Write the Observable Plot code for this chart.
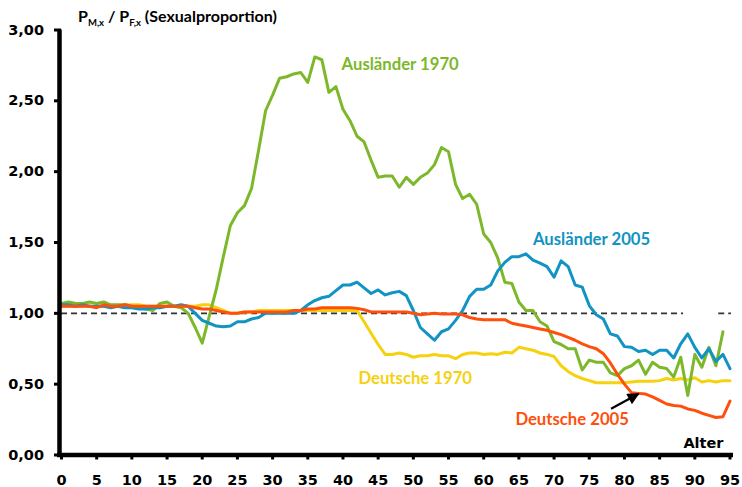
<!DOCTYPE html>
<html><head><meta charset="utf-8">
<script src="https://cdn.jsdelivr.net/npm/d3@7"></script>
<script src="https://cdn.jsdelivr.net/npm/@observablehq/plot@0.6"></script>
<style>body{margin:0;background:#fff;}</style>
</head><body><div id="chart"></div>
<script>
// Alter (age) categories
const ages = d3.range(0, 96);
const xTicks = d3.range(0, 96, 5);
const yTicks = [0, 0.5, 1, 1.5, 2, 2.5, 3];

// Sexualproportion P_M,x / P_F,x
const auslaender1970 = [1.07,1.08,1.07,1.07,1.08,1.07,1.08,1.06,1.06,1.06,1.05,1.04,1.03,1.02,1.07,1.08,1.05,1.04,1.00,0.90,
  0.79,0.98,1.17,1.40,1.62,1.71,1.76,1.88,2.15,2.43,2.54,2.66,2.67,2.69,2.70,2.63,2.81,2.79,2.56,2.60,
  2.44,2.36,2.25,2.21,2.08,1.96,1.97,1.97,1.89,1.96,1.91,1.96,1.99,2.05,2.17,2.14,1.91,1.81,1.84,1.77,
  1.56,1.50,1.39,1.22,1.21,1.08,1.02,1.02,0.94,0.91,0.80,0.78,0.75,0.75,0.60,0.67,0.655,0.655,0.58,0.56,
  0.61,0.63,0.67,0.57,0.655,0.62,0.61,0.55,0.69,0.42,0.71,0.62,0.76,0.63,0.87];
const auslaender2005 = [1.06,1.06,1.05,1.06,1.05,1.05,1.05,1.04,1.05,1.04,1.04,1.03,1.03,1.04,1.04,1.05,1.05,1.06,1.05,1.00,
  0.95,0.93,0.91,0.905,0.91,0.94,0.94,0.96,0.97,1.00,1.00,1.00,1.00,1.00,1.02,1.06,1.09,1.11,1.12,1.16,
  1.20,1.20,1.22,1.18,1.14,1.165,1.13,1.145,1.155,1.125,1.02,0.90,0.855,0.81,0.87,0.89,0.95,1.02,1.12,1.17,
  1.17,1.20,1.30,1.36,1.40,1.40,1.42,1.375,1.355,1.33,1.255,1.37,1.33,1.20,1.185,1.055,0.99,0.96,0.855,0.84,
  0.765,0.76,0.73,0.74,0.71,0.74,0.74,0.685,0.785,0.855,0.76,0.685,0.75,0.66,0.71,0.61];
const deutsche1970 = [1.05,1.05,1.05,1.05,1.05,1.05,1.05,1.05,1.05,1.06,1.06,1.06,1.05,1.05,1.05,1.05,1.05,1.05,1.05,1.05,
  1.06,1.06,1.04,1.02,1.00,1.00,1.01,1.01,1.02,1.02,1.02,1.02,1.02,1.02,1.02,1.02,1.02,1.02,1.02,1.02,
  1.02,1.02,1.02,0.94,0.86,0.78,0.71,0.71,0.72,0.71,0.69,0.70,0.70,0.71,0.70,0.70,0.68,0.71,0.72,0.72,
  0.71,0.715,0.71,0.725,0.72,0.76,0.75,0.74,0.72,0.71,0.695,0.63,0.59,0.56,0.54,0.525,0.51,0.51,0.51,0.51,
  0.51,0.515,0.52,0.52,0.52,0.525,0.54,0.53,0.54,0.53,0.545,0.515,0.525,0.515,0.525,0.525];
const deutsche2005 = [1.05,1.05,1.05,1.05,1.05,1.04,1.06,1.05,1.05,1.06,1.05,1.05,1.05,1.05,1.05,1.05,1.05,1.05,1.05,1.04,
  1.03,1.03,1.02,1.01,1.00,1.00,1.01,1.01,1.01,1.01,1.01,1.01,1.01,1.02,1.02,1.03,1.03,1.04,1.04,1.04,
  1.04,1.04,1.035,1.025,1.01,1.01,1.01,1.01,1.01,1.01,1.00,0.99,0.995,1.00,0.995,0.995,0.995,0.99,0.97,0.96,
  0.955,0.955,0.955,0.955,0.93,0.92,0.91,0.90,0.89,0.88,0.865,0.85,0.83,0.81,0.785,0.765,0.75,0.715,0.65,0.57,
  0.50,0.44,0.435,0.43,0.41,0.385,0.36,0.35,0.345,0.325,0.315,0.295,0.28,0.265,0.27,0.38];

const seriesNames = ["Ausländer 1970", "Ausländer 2005", "Deutsche 1970", "Deutsche 2005"];
// label anchor positions (age, ratio) for series names
const labelAges = [39.8, 67.0, 42.2, 64.5];
const labelValues = [2.756, 1.521, 0.54, 0.25];
// reference level 1,00 (dashed)
const refFrom = [0, 93.4];
const refTo = [88.4, 95.2];
const refLevel = 1;
// annotation arrow pointing at Deutsche 2005
const arrowFrom = {age: 78.1, value: 0.326};
const arrowTo = {age: 82.0, value: 0.432};
const axisTitle = ["Alter"];

const colors = {
  "Ausländer 1970": "#7cb82a",
  "Ausländer 2005": "#1193c3",
  "Deutsche 1970": "#f6d10e",
  "Deutsche 2005": "#ff4f0c"
};

const seriesValues = [auslaender1970, auslaender2005, deutsche1970, deutsche2005];
const rows = name => seriesValues[seriesNames.indexOf(name)].map((v, i) => ({age: ages[i], value: v, series: name}));
const labels = seriesNames.map((s, i) => ({series: s, age: labelAges[i], value: labelValues[i]}));
const refSegs = refFrom.map((f, i) => ({from: f, to: refTo[i], value: refLevel}));
const fmt = d => d3.format(".2f")(d).replace(".", ",");

const drawOrder = ["Deutsche 1970", "Ausländer 1970", "Ausländer 2005", "Deutsche 2005"];

const chart = Plot.plot({
  width: 742,
  height: 487,
  marginTop: 29.5,
  marginBottom: 32.5,
  marginLeft: 61,
  marginRight: 12.5,
  x: {domain: [0, 95]},
  y: {domain: [0, 3]},
  style: {fontFamily: "DejaVu Sans", fontSize: "14.5px", fontWeight: "bold", color: "#000", background: "#fff", overflow: "visible"},
  marks: [
    Plot.ruleY(refSegs, {x1: "from", x2: "to", y: "value", stroke: "#333", strokeWidth: 1.8, strokeDasharray: "6,4"}),
    ...drawOrder.map(name => Plot.line(rows(name), {x: "age", y: "value", stroke: colors[name], strokeWidth: 3, strokeLinejoin: "round"})),
    Plot.axisY({ticks: yTicks, tickSize: 7, tickPadding: 10.5, tickFormat: fmt, strokeWidth: 3, label: null}),
    Plot.axisX({ticks: xTicks, tickSize: 5, tickPadding: 14.5, tickFormat: d => String(d), strokeWidth: 3, label: null}),
    Plot.ruleX([0], {y1: 0, y2: 3, strokeWidth: 4.5, dx: -2, stroke: "#000", insetTop: -1.5}),
    Plot.ruleY([0], {strokeWidth: 4.5, stroke: "#000", insetLeft: -4, insetRight: -3.5}),
    Plot.link([{a: arrowFrom, b: arrowTo}], {x1: d => d.a.age, y1: d => d.a.value, x2: d => d.b.age, y2: d => d.b.value, stroke: "#000", strokeWidth: 2.2}),
    Plot.text(labels, {x: "age", y: "value", text: "series", fill: d => colors[d.series], textAnchor: "start", lineAnchor: "middle", fontFamily: "Lato", fontSize: 16.7, fontWeight: "bold"}),
    Plot.text(axisTitle, {text: d => d, frameAnchor: "bottom-right", textAnchor: "end", lineAnchor: "middle", dx: -6.5, dy: -11.5, fill: "#000"})
  ]
});

const svg = d3.select(chart);
// filled arrow head
const defs = svg.insert("defs", ":first-child");
defs.append("marker")
  .attr("id", "pfeilspitze")
  .attr("viewBox", "0 0 10 10")
  .attr("refX", 9).attr("refY", 5)
  .attr("markerWidth", 14).attr("markerHeight", 12)
  .attr("markerUnits", "userSpaceOnUse")
  .attr("orient", "auto")
  .append("path").attr("d", "M0,0L10,5L0,10z").attr("fill", "#000");
svg.selectAll('g[aria-label="link"] path').attr("marker-end", "url(#pfeilspitze)");

// title with subscripts
const t = svg.append("text")
  .attr("x", 78).attr("y", 21.5)
  .attr("text-anchor", "start")
  .attr("font-family", "Lato").attr("font-weight", "bold").attr("font-size", 16).attr("fill", "#000");
t.append("tspan").text("P");
t.append("tspan").attr("font-size", 9.5).attr("dy", 4).text("M,x");
t.append("tspan").attr("dy", -4).text(" / P");
t.append("tspan").attr("font-size", 9.5).attr("dy", 4).text("F,x");
t.append("tspan").attr("dy", -4).text(" (Sexualproportion)");

document.getElementById("chart").append(chart);
</script>
</body></html>
